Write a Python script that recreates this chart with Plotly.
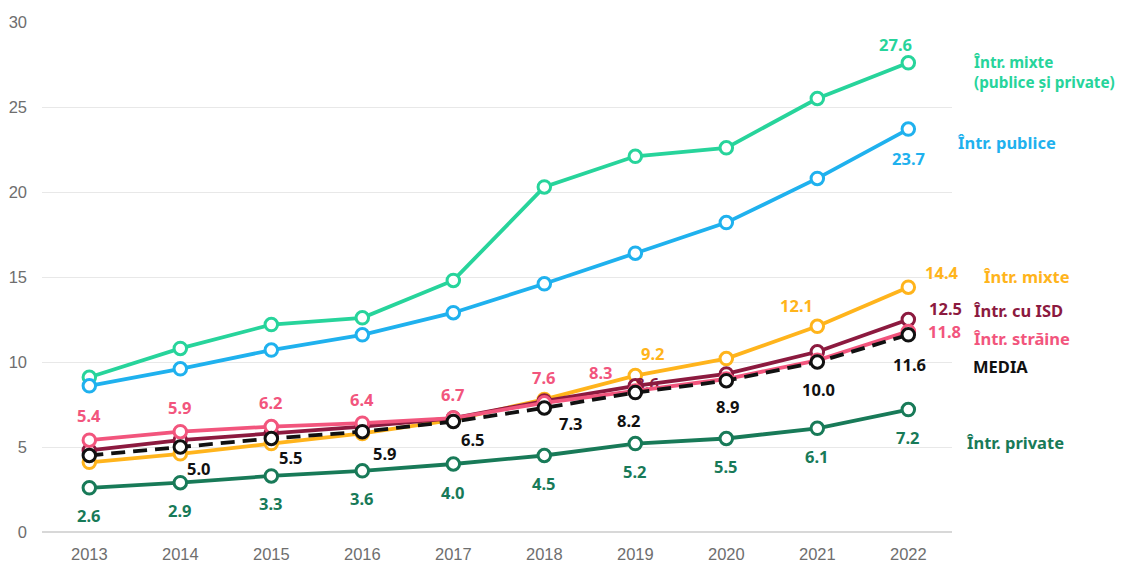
import plotly.graph_objects as go

years = [2013, 2014, 2015, 2016, 2017, 2018, 2019, 2020, 2021, 2022]

mixte_pp = [9.1, 10.8, 12.2, 12.6, 14.8, 20.3, 22.1, 22.6, 25.5, 27.6]
publice = [8.6, 9.6, 10.7, 11.6, 12.9, 14.6, 16.4, 18.2, 20.8, 23.7]
mixte = [4.1, 4.6, 5.2, 5.8, 6.6, 7.8, 9.2, 10.2, 12.1, 14.4]
isd = [4.8, 5.4, 5.8, 6.2, 6.7, 7.7, 8.6, 9.3, 10.6, 12.5]
straine = [5.4, 5.9, 6.2, 6.4, 6.7, 7.6, 8.3, 9.0, 10.1, 11.8]
media = [4.5, 5.0, 5.5, 5.9, 6.5, 7.3, 8.2, 8.9, 10.0, 11.6]
private = [2.6, 2.9, 3.3, 3.6, 4.0, 4.5, 5.2, 5.5, 6.1, 7.2]

names = ["Într. mixte<br>(publice și private)", "Într. publice", "Într. mixte",
         "Într. cu ISD", "Într. străine", "MEDIA", "Într. private"]

C_MPP = "#27D49B"
C_PUB = "#1FB1EE"
C_MIX = "#FFB41C"
C_ISD = "#8C1A3F"
C_STR = "#F2557D"
C_MED = "#111111"
C_PRV = "#187A58"

LABEL_FONT = "Noto Sans"
FS = 16.5
TICK_FONT = dict(family="Liberation Sans", size=16.5, color="#6e6e6e")

fig = go.Figure()

def add_line(y, color, dash="solid"):
    fig.add_trace(go.Scatter(
        x=years, y=y, mode="lines+markers",
        line=dict(color=color, width=3.8, dash=dash),
        marker=dict(symbol="circle", size=12.5, color="white",
                    line=dict(color=color, width=3)),
        hoverinfo="skip", showlegend=False, cliponaxis=False))

add_line(mixte_pp, C_MPP)
add_line(publice, C_PUB)
add_line(mixte, C_MIX)
add_line(isd, C_ISD)
# ISD 2019 value label drawn under the following lines
fig.add_trace(go.Scatter(
    x=[years[6]], y=[isd[6]], mode="text", text=[f"{isd[6]:.1f}"],
    textposition="middle right",
    textfont=dict(family=LABEL_FONT, size=FS, color=C_ISD, weight="bold"),
    hoverinfo="skip", showlegend=False, cliponaxis=False))
add_line(straine, C_STR)
add_line(media, C_MED, dash="14px,8px")
add_line(private, C_PRV)

# value labels: (series, color, [(index, dx, dy)]) in pixels
label_specs = [
    (mixte_pp, C_MPP, [(9, -13, -18)]),
    (publice, C_PUB, [(9, 0, 29)]),
    (mixte, C_MIX, [(6, 18, -22), (8, -21, -21), (9, 34, -15)]),
    (isd, C_ISD, [(9, 37, -11)]),
    (straine, C_STR, [(0, 0, -25), (1, 0, -24), (2, 0, -24), (3, 0, -24),
                      (4, 0, -24), (5, 0, -25), (6, -34, -18), (9, 36, 0)]),
    (media, C_MED, [(1, 19, 21), (2, 20, 19), (3, 23, 22), (4, 20, 18),
                    (5, 27, 16), (6, -6, 28), (7, 2, 26), (8, 1, 27), (9, 1, 30)]),
    (private, C_PRV, [(i, 0, 28) for i in range(10)]),
]

for series, color, specs in label_specs:
    for i, dx, dy in specs:
        fig.add_annotation(
            x=years[i], y=series[i], xref="x", yref="y",
            text=f"{series[i]:.1f}", showarrow=False,
            xshift=dx, yshift=-dy,
            font=dict(family=LABEL_FONT, size=FS, color=color, weight="bold"))

# series names to the right of the plot: (name, color, y, xshift from plot edge, size)
name_specs = [
    (names[0], C_MPP, 27.05, 19, 15.3),
    (names[1], C_PUB, 22.9, 3, FS),
    (names[2], C_MIX, 15.05, 29, FS),
    (names[3], C_ISD, 13.05, 19, FS),
    (names[4], C_STR, 11.4, 19, FS),
    (names[5], C_MED, 9.75, 19, FS),
    (names[6], C_PRV, 5.25, 12, FS),
]
for text, color, yv, xs, fs in name_specs:
    fig.add_annotation(
        x=1, y=yv, xref="paper", yref="y", text=text, showarrow=False,
        xanchor="left", xshift=xs, align="left",
        font=dict(family=LABEL_FONT, size=fs, color=color, weight="bold"))

# page body adds an 8px offset: shrink the figure and margins to compensate
fig.update_layout(
    width=1117, height=555,
    margin=dict(l=34, r=173, t=14, b=31, autoexpand=False),
    plot_bgcolor="white", paper_bgcolor="white",
    showlegend=False,
    xaxis=dict(range=[2012.48, 2022.48], tickmode="array", tickvals=years,
               ticktext=[str(y) for y in years], showgrid=False, zeroline=False,
               showline=False, ticks="", ticklabelstandoff=10, automargin=False,
               tickfont=TICK_FONT),
    yaxis=dict(range=[0, 30], tickvals=[0, 5, 10, 15, 20, 25, 30],
               showgrid=True, gridcolor="#e8e8e8", gridwidth=1,
               zeroline=True, zerolinecolor="#d8d8d8", zerolinewidth=1.5,
               showline=False, ticks="", ticklabelstandoff=14, automargin=False,
               tickfont=TICK_FONT),
)

fig.write_html("out.html")
